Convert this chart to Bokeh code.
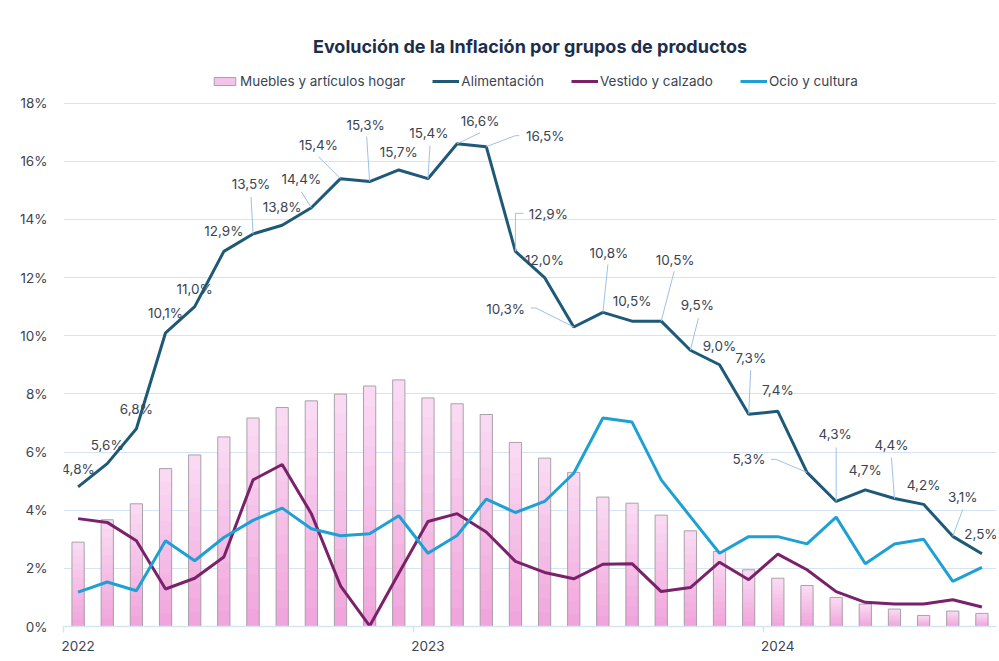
from bokeh.plotting import figure
from bokeh.models import (Range1d, FixedTicker, Legend, LegendItem,
                          ColumnDataSource)
from bokeh.core.properties import value
from bokeh.embed import file_html
from bokeh.resources import INLINE

# ---------------- data ----------------
months = ["2022-01", "2022-02", "2022-03", "2022-04", "2022-05", "2022-06",
          "2022-07", "2022-08", "2022-09", "2022-10", "2022-11", "2022-12",
          "2023-01", "2023-02", "2023-03", "2023-04", "2023-05", "2023-06",
          "2023-07", "2023-08", "2023-09", "2023-10", "2023-11", "2023-12",
          "2024-01", "2024-02", "2024-03", "2024-04", "2024-05", "2024-06",
          "2024-07", "2024-08"]
year_positions = [0, 12, 24]
year_labels = ["2022", "2023", "2024"]
y_ticks = [0, 2, 4, 6, 8, 10, 12, 14, 16, 18]

muebles = [2.90, 3.67, 4.22, 5.43, 5.90, 6.52, 7.17, 7.53, 7.76, 7.99, 8.27, 8.48,
           7.86, 7.66, 7.29, 6.33, 5.79, 5.30, 4.45, 4.24, 3.83, 3.29, 2.58, 1.95,
           1.66, 1.41, 1.00, 0.77, 0.60, 0.38, 0.53, 0.45]
alimentacion = [4.8, 5.6, 6.8, 10.1, 11.0, 12.9, 13.5, 13.8, 14.4, 15.4, 15.3, 15.7,
                15.4, 16.6, 16.5, 12.9, 12.0, 10.3, 10.8, 10.5, 10.5, 9.5, 9.0, 7.3,
                7.4, 5.3, 4.3, 4.7, 4.4, 4.2, 3.1, 2.5]
vestido = [3.71, 3.58, 2.95, 1.29, 1.66, 2.39, 5.04, 5.57, 3.88, 1.40, 0.02, 1.83,
           3.61, 3.88, 3.25, 2.24, 1.86, 1.64, 2.14, 2.16, 1.20, 1.34, 2.21, 1.61,
           2.49, 1.95, 1.20, 0.83, 0.77, 0.77, 0.92, 0.67]
ocio = [1.18, 1.53, 1.23, 2.95, 2.26, 3.06, 3.65, 4.07, 3.36, 3.12, 3.19, 3.81,
        2.52, 3.13, 4.38, 3.92, 4.30, 5.27, 7.17, 7.03, 5.04, 3.78, 2.52, 3.09,
        3.09, 2.84, 3.76, 2.16, 2.84, 3.00, 1.55, 2.03]

# ---------------- label layout (screen pixel offsets) ----------------
lab_dx = [0, 0, 0, 0, 0, 0, -2, 0, -10, -22, -4, 0,
          1, 23, 59, 33, 0, -68, 6, 0, 14, 7, 0, 2,
          0, -58, -1, 0, -3, 0, 10, -1]
lab_dy = [-18, -19, -20, -20, -18, -20, -50, -18, -29, -34, -57, -18,
          -46, -23, -11, -37, -18, -18, -59, -20, -61, -45, -19, -56,
          -21, -13, -67, -20, -54, -19, -39, -20]
leaders = {
    6: [(0, 0), (-2, -37)],
    8: [(0, 0), (-10, -16)],
    9: [(0, 0), (-22, -22)],
    10: [(0, 0), (-3, -45)],
    12: [(0, 0), (2, -33)],
    13: [(0, 0), (23, -11)],
    14: [(0, 0), (29, -11), (33, -11)],
    15: [(0, 0), (0, -38), (8, -38)],
    17: [(0, 0), (-38, -19), (-43, -19)],
    18: [(0, 0), (5, -48)],
    20: [(0, 0), (13, -50)],
    21: [(0, 0), (8, -32)],
    23: [(0, 0), (2, -44)],
    25: [(0, 0), (-31, -13), (-36, -13)],
    26: [(0, 0), (0, -54)],
    28: [(0, 0), (-3, -41)],
    30: [(0, 0), (10, -27)],
}

# ---------------- styling ----------------
FONT = "Inter"
C_ALI = "#1E5A78"
C_VES = "#7B2169"
C_OCI = "#1FA0D4"
C_BAR_BOTTOM = (240, 166, 220)
C_BAR_TOP = (250, 218, 243)
C_BAR_LINE = "#A9A2AA"
C_GRID = "#D6E3F3"
C_TXT = "#3A4452"
C_LEAD = "#9CC2E8"
N_GRAD = 12

W, H = 998, 659
B_LEFT, B_RIGHT, B_TOP, B_BOTTOM = 63, 2, 64, 33
FRAME_W = W - B_LEFT - B_RIGHT
FRAME_H = H - B_TOP - B_BOTTOM
PX_PER_PCT = 29.08                 # vertical scale of the reference
X0, X1 = -0.5, len(months) - 0.5
Y0 = 0
Y1 = FRAME_H / PX_PER_PCT           # headroom above 18 % holds the legend
px_x = FRAME_W / (X1 - X0)
px_y = FRAME_H / (Y1 - Y0)

x = list(range(len(months)))

p = figure(width=W, height=H,
           x_range=Range1d(X0, X1), y_range=Range1d(Y0, Y1),
           output_backend="svg", toolbar_location=None,
           min_border_left=B_LEFT, min_border_right=B_RIGHT,
           min_border_top=B_TOP, min_border_bottom=B_BOTTOM)
p.background_fill_color = "white"
p.border_fill_color = "white"
p.outline_line_color = None

p.title.text = "Evolución de la Inflación por grupos de productos"
p.title.text_font = FONT
p.title.text_font_size = "18px"
p.title.text_font_style = "bold"
p.title.text_color = "#1C2E4A"
p.title.align = "center"
p.title.offset = -14
p.title.standoff = 15

# grid
p.xgrid.grid_line_color = None
p.ygrid.grid_line_color = C_GRID
p.ygrid.grid_line_width = 1
p.ygrid.ticker = FixedTicker(ticks=y_ticks)

# axes
p.yaxis.ticker = FixedTicker(ticks=y_ticks)
p.yaxis.major_label_overrides = {t: f"{t}%" for t in y_ticks}
p.yaxis.axis_line_color = None
p.yaxis.major_tick_line_color = None
p.yaxis.minor_tick_line_color = None
p.yaxis.major_tick_out = 0
p.yaxis.major_label_standoff = 16
p.yaxis.major_label_text_font = FONT
p.yaxis.major_label_text_font_size = "13.5px"
p.yaxis.major_label_text_color = C_TXT

p.xaxis.ticker = FixedTicker(ticks=year_positions,
                             minor_ticks=[pos - 0.5 for pos in year_positions])
p.xaxis.major_label_overrides = dict(zip(year_positions, year_labels))
p.xaxis.axis_line_color = C_GRID
p.xaxis.axis_line_width = 1.5
p.xaxis.major_tick_line_color = None
p.xaxis.major_tick_out = 0
p.xaxis.minor_tick_line_color = C_GRID
p.xaxis.minor_tick_line_width = 1.5
p.xaxis.minor_tick_out = 6
p.xaxis.minor_tick_in = 0
p.xaxis.major_label_standoff = 8
p.xaxis.major_label_text_font = FONT
p.xaxis.major_label_text_font_size = "13.5px"
p.xaxis.major_label_text_color = C_TXT

# bars: vertical pink gradient from overlapping bars (tallest/lightest first),
# then a grey outline on top
def mix(a, b, t):
    return "#%02x%02x%02x" % tuple(round(a[c] + (b[c] - a[c]) * t) for c in range(3))

slice_renderers = {}
for k in range(N_GRAD - 1, -1, -1):
    r = p.vbar(x=x, bottom=0,
               top=[v * (k + 1) / N_GRAD for v in muebles],
               width=0.42, fill_color=mix(C_BAR_BOTTOM, C_BAR_TOP, k / (N_GRAD - 1)),
               line_color=None)
    slice_renderers[k] = r
bars = p.vbar(x=x, top=muebles, width=0.42, fill_alpha=0,
              line_color=C_BAR_LINE, line_width=1)

l_ali = p.line(x, alimentacion, line_color=C_ALI, line_width=3)
l_ves = p.line(x, vestido, line_color=C_VES, line_width=3)
l_oci = p.line(x, ocio, line_color=C_OCI, line_width=3)

# leader lines
xs, ys = [], []
for i, pts in leaders.items():
    xs.append([i + dx / px_x for dx, dy in pts])
    ys.append([alimentacion[i] - dy / px_y for dx, dy in pts])
p.multi_line(xs, ys, line_color=C_LEAD, line_width=1)

# data labels
src = ColumnDataSource(dict(
    x=x, y=alimentacion,
    t=[f"{v:.1f}".replace(".", ",") + "%" for v in alimentacion],
    dx=lab_dx, dy=lab_dy))
p.text(x="x", y="y", text="t", x_offset="dx", y_offset="dy", source=src,
       text_align="center", text_baseline="middle",
       text_font=value(FONT), text_font_size="13.5px", text_color=C_TXT)

legend = Legend(items=[
    LegendItem(label="Muebles y artículos hogar",
               renderers=[slice_renderers[N_GRAD // 2], bars]),
    LegendItem(label="Alimentación", renderers=[l_ali]),
    LegendItem(label="Vestido y calzado", renderers=[l_ves]),
    LegendItem(label="Ocio y cultura", renderers=[l_oci]),
], orientation="horizontal", location=(148, FRAME_H - 25))
legend.border_line_color = None
legend.background_fill_alpha = 0
legend.label_text_font = FONT
legend.label_text_font_size = "13.5px"
legend.label_text_color = C_TXT
legend.glyph_width = 27
legend.glyph_height = 10
legend.label_standoff = 2
legend.spacing = 27
legend.padding = 2
legend.margin = 0
p.add_layout(legend)

open("out.html", "w").write(file_html(p, INLINE))
